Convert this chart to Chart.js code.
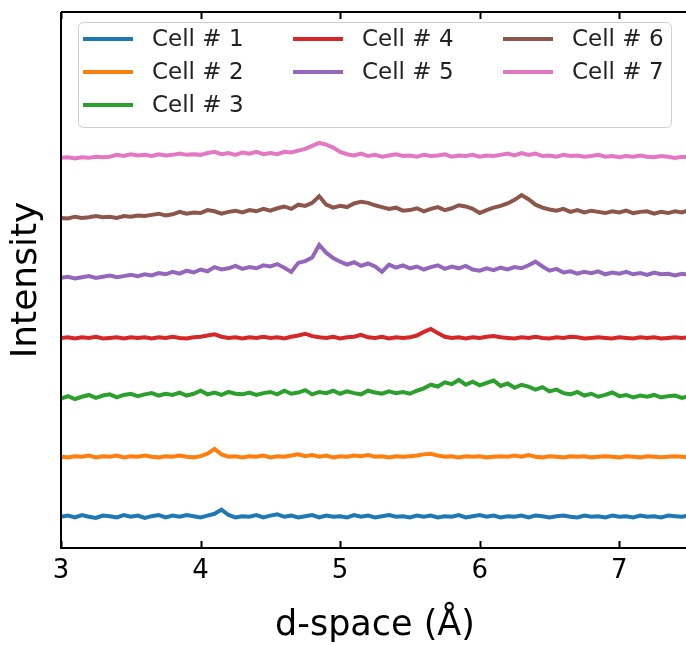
<!DOCTYPE html>
<html>
<head>
<meta charset="utf-8">
<title>d-space intensity</title>
<script src="https://cdn.jsdelivr.net/npm/chart.js@4.4.1/dist/chart.umd.min.js"></script>
<style>
  html, body { margin: 0; padding: 0; background: #fff; overflow: hidden; }
  #wrap { width: 690px; height: 645px; }
</style>
</head>
<body>
<div id="wrap"><canvas id="xrd" width="690" height="645"></canvas></div>
<script>
"use strict";

// d-space sampling (Å)
const dSpace = [
  3.00,3.05,3.10,3.15,3.20,3.25,3.30,3.35,3.40,3.45,
  3.50,3.55,3.60,3.65,3.70,3.75,3.80,3.85,3.90,3.95,
  4.00,4.05,4.10,4.15,4.20,4.25,4.30,4.35,4.40,4.45,
  4.50,4.55,4.60,4.65,4.70,4.75,4.80,4.85,4.90,4.95,
  5.00,5.05,5.10,5.15,5.20,5.25,5.30,5.35,5.40,5.45,
  5.50,5.55,5.60,5.65,5.70,5.75,5.80,5.85,5.90,5.95,
  6.00,6.05,6.10,6.15,6.20,6.25,6.30,6.35,6.40,6.45,
  6.50,6.55,6.60,6.65,6.70,6.75,6.80,6.85,6.90,6.95,
  7.00,7.05,7.10,7.15,7.20,7.25,7.30,7.35,7.40,7.45,7.50
];

const cellLabels = ['Cell # 1', 'Cell # 2', 'Cell # 3', 'Cell # 4', 'Cell # 5', 'Cell # 6', 'Cell # 7'];
const cellColors = ['#1f77b4', '#ff7f0e', '#2ca02c', '#d62728', '#9467bd', '#8c564b', '#e377c2'];
// vertical offset used to stack the traces
const cellOffsets = [0.52, 1.52, 2.52, 3.50, 4.50, 5.50, 6.50];

const cell1 = [
  0.00,0.02,-0.01,0.03,0.00,-0.02,0.02,0.01,-0.01,0.03,
  0.00,0.02,-0.02,0.01,0.03,-0.01,0.02,0.00,0.03,0.01,
  -0.01,0.02,0.05,0.12,0.03,-0.01,0.01,0.00,0.03,-0.01,
  0.02,0.04,0.00,0.02,-0.01,0.01,0.03,-0.01,0.02,0.00,
  0.01,-0.01,0.03,0.00,0.02,-0.01,0.01,0.03,0.00,0.01,
  -0.01,0.02,0.00,0.02,-0.01,0.01,0.00,0.03,-0.01,0.01,
  0.03,0.00,0.02,-0.01,0.01,0.00,0.02,-0.01,0.02,0.01,
  -0.01,0.01,0.02,0.00,-0.01,0.02,0.00,0.01,-0.01,0.02,
  0.00,0.01,-0.01,0.02,0.00,0.01,-0.01,0.02,0.01,0.00,0.02
];
const cell2 = [
  0.00,-0.01,0.01,0.00,0.02,-0.01,0.01,0.00,0.02,-0.01,
  0.01,0.00,0.02,0.00,-0.01,0.01,0.00,0.02,0.00,-0.01,
  0.01,0.05,0.13,0.04,0.00,0.01,-0.01,0.01,0.00,0.02,
  -0.01,0.01,0.00,0.02,0.04,0.01,0.03,0.00,0.02,-0.01,
  0.01,0.00,0.02,0.01,0.03,0.00,0.01,-0.01,0.01,0.00,
  0.01,0.02,0.04,0.05,0.02,0.00,0.01,-0.01,0.01,0.00,
  0.01,-0.01,0.00,0.01,0.00,0.02,0.00,0.03,0.00,-0.01,
  0.01,0.00,-0.01,0.01,0.00,0.01,-0.01,0.00,0.01,0.00,
  -0.01,0.01,0.00,-0.01,0.01,0.00,-0.01,0.00,0.01,0.00,-0.01
];
const cell3 = [
  -0.03,0.01,-0.04,0.00,0.03,-0.02,0.02,0.04,-0.01,0.03,
  0.05,0.01,0.04,0.06,0.02,0.05,0.03,0.07,0.02,0.05,
  0.10,0.04,0.07,0.03,0.08,0.05,0.04,0.07,0.03,0.06,
  0.08,0.04,0.10,0.05,0.07,0.11,0.04,0.08,0.06,0.10,
  0.05,0.09,0.06,0.04,0.10,0.07,0.05,0.09,0.06,0.08,
  0.05,0.10,0.14,0.20,0.17,0.24,0.21,0.28,0.20,0.25,
  0.19,0.23,0.27,0.18,0.22,0.15,0.20,0.17,0.12,0.16,
  0.09,0.12,0.06,0.04,0.08,0.02,0.05,0.00,0.03,0.07,
  0.01,0.03,-0.01,0.02,0.00,0.03,-0.01,0.01,0.02,-0.02,0.01
];
const cell4 = [
  0.00,0.01,-0.01,0.01,0.00,0.02,-0.01,0.00,0.01,-0.01,
  0.01,0.00,0.01,-0.01,0.01,0.00,0.02,0.00,-0.01,0.01,
  0.02,0.04,0.06,0.02,0.00,0.01,-0.01,0.01,0.00,0.02,
  0.00,0.01,-0.01,0.02,0.04,0.07,0.03,0.01,0.00,0.02,
  -0.01,0.01,0.02,0.05,0.01,0.00,0.02,-0.01,0.01,0.00,
  0.01,0.04,0.10,0.15,0.08,0.02,0.00,0.01,-0.01,0.01,
  0.00,0.02,0.03,0.01,0.00,-0.01,0.01,0.00,0.02,0.00,
  -0.01,0.01,0.00,0.02,0.01,-0.01,0.00,0.01,0.00,-0.01,
  0.01,0.00,-0.01,0.01,0.00,0.01,-0.01,0.00,0.01,0.00,0.01
];
const cell5 = [
  0.00,0.02,-0.01,0.01,0.03,0.00,0.02,0.04,0.01,0.03,
  0.05,0.03,0.06,0.04,0.08,0.06,0.10,0.07,0.12,0.09,
  0.14,0.11,0.18,0.14,0.16,0.20,0.15,0.18,0.16,0.21,
  0.19,0.23,0.17,0.10,0.25,0.28,0.34,0.55,0.42,0.33,
  0.27,0.22,0.26,0.20,0.24,0.19,0.10,0.22,0.17,0.21,
  0.16,0.19,0.14,0.18,0.21,0.15,0.19,0.16,0.20,0.14,
  0.12,0.16,0.13,0.17,0.14,0.18,0.16,0.21,0.27,0.19,
  0.12,0.15,0.09,0.11,0.07,0.10,0.08,0.11,0.06,0.09,
  0.07,0.10,0.06,0.08,0.05,0.09,0.06,0.07,0.04,0.07,0.05
];
const cell6 = [
  0.00,-0.01,0.02,0.00,0.01,0.03,0.01,0.02,0.00,0.03,
  0.02,0.04,0.03,0.05,0.07,0.04,0.06,0.10,0.07,0.09,
  0.08,0.13,0.11,0.07,0.10,0.12,0.09,0.13,0.11,0.15,
  0.12,0.16,0.19,0.15,0.22,0.20,0.25,0.36,0.22,0.17,
  0.20,0.18,0.24,0.27,0.25,0.21,0.18,0.15,0.17,0.12,
  0.13,0.16,0.11,0.15,0.18,0.13,0.16,0.21,0.19,0.15,
  0.08,0.13,0.17,0.20,0.24,0.30,0.38,0.31,0.22,0.17,
  0.14,0.12,0.15,0.10,0.13,0.09,0.12,0.10,0.08,0.11,
  0.09,0.12,0.08,0.10,0.11,0.07,0.10,0.08,0.11,0.09,0.13
];
const cell7 = [
  0.00,0.01,-0.01,0.01,0.00,0.02,0.01,0.02,0.05,0.03,
  0.06,0.04,0.05,0.03,0.06,0.04,0.05,0.07,0.05,0.06,
  0.05,0.08,0.10,0.06,0.08,0.05,0.09,0.07,0.10,0.06,
  0.08,0.06,0.10,0.09,0.12,0.15,0.20,0.25,0.22,0.17,
  0.10,0.06,0.04,0.07,0.03,0.05,0.02,0.04,0.06,0.03,
  0.04,0.02,0.05,0.03,0.04,0.06,0.02,0.04,0.03,0.05,
  0.02,0.04,0.03,0.05,0.07,0.04,0.08,0.05,0.07,0.03,
  0.04,0.02,0.05,0.03,0.04,0.02,0.03,0.05,0.02,0.03,
  0.01,0.03,0.02,0.04,0.02,0.01,0.03,0.02,0.00,0.02,0.01
];

const cellIntensity = [cell1, cell2, cell3, cell4, cell5, cell6, cell7];
const xTicks = [3, 4, 5, 6, 7];

const FONT = "'DejaVu Sans', sans-serif";

// matplotlib-like frame with inward ticks on top and bottom
const framePlugin = {
    id: 'frame',
    afterDraw(chart) {
        const ctx = chart.ctx, a = chart.chartArea, xs = chart.scales.x;
        ctx.save();
        ctx.strokeStyle = '#000';
        ctx.lineWidth = 2;
        ctx.beginPath();
        ctx.moveTo(a.left, a.top);
        ctx.lineTo(a.right + 2, a.top);
        ctx.moveTo(a.left, a.top);
        ctx.lineTo(a.left, a.bottom);
        ctx.lineTo(a.right + 2, a.bottom);
        xTicks.forEach(function (v) {
            const px = Math.round(xs.getPixelForValue(v)) + 0.5;
            ctx.moveTo(px, a.bottom);
            ctx.lineTo(px, a.bottom - 7);
            ctx.moveTo(px, a.top);
            ctx.lineTo(px, a.top + 7);
        });
        ctx.stroke();
        ctx.restore();
    }
};

// legend in 3 columns inside the plot, filled column by column (3, 2, 2)
const legendPlugin = {
    id: 'boxLegend',
    afterDraw(chart) {
        const ctx = chart.ctx, a = chart.chartArea;
        const sets = chart.data.datasets;
        const boxX = a.left + 17, boxY = a.top + 10, boxW = 593, boxH = 105;
        ctx.save();
        ctx.beginPath();
        ctx.roundRect(boxX + 0.5, boxY + 0.5, boxW, boxH, 5);
        ctx.fillStyle = 'rgba(255,255,255,0.85)';
        ctx.fill();
        ctx.strokeStyle = '#d0d0d0';
        ctx.lineWidth = 1;
        ctx.stroke();

        const perCol = [3, 2, 2];
        let idx = 0;
        ctx.font = '23px ' + FONT;
        ctx.textBaseline = 'middle';
        ctx.fillStyle = '#222';
        perCol.forEach(function (n, c) {
            for (let r = 0; r < n; r++, idx++) {
                const ds = sets[idx];
                const lx = boxX + 5 + c * 210;
                const ly = boxY + 17 + r * 33;
                ctx.beginPath();
                ctx.strokeStyle = ds.borderColor;
                ctx.lineWidth = 4;
                ctx.moveTo(lx, ly);
                ctx.lineTo(lx + 50, ly);
                ctx.stroke();
                ctx.fillText(ds.label, lx + 69, ly + 1);
            }
        });
        ctx.restore();
    }
};

const datasets = cellLabels.map(function (label, k) {
    return {
        label: label,
        data: dSpace.map(function (d, i) { return { x: d, y: cellIntensity[k][i] + cellOffsets[k] }; }),
        borderColor: cellColors[k],
        backgroundColor: cellColors[k],
        borderWidth: 4,
        pointRadius: 0,
        tension: 0,
        fill: false
    };
});

new Chart(document.getElementById('xrd').getContext('2d'), {
    type: 'line',
    data: { datasets: datasets },
    options: {
        responsive: false,
        animation: false,
        layout: { padding: { top: 12, right: 1, left: 0, bottom: 0 } },
        plugins: {
            legend: { display: false },
            tooltip: { enabled: false }
        },
        scales: {
            x: {
                type: 'linear',
                position: 'bottom',
                min: 3,
                max: 7.5,
                afterBuildTicks: function (s) { s.ticks = xTicks.map(function (v) { return { value: v }; }); },
                afterFit: function (s) { s.height = 97; },
                grid: { display: false, drawTicks: false },
                border: { display: false },
                ticks: {
                    color: '#000',
                    padding: 8,
                    maxRotation: 0,
                    font: { family: FONT, size: 26 }
                },
                title: {
                    display: true,
                    text: 'd-space (Å)',
                    color: '#000',
                    font: { family: FONT, size: 35, lineHeight: 1 },
                    padding: { top: 0, bottom: 2 }
                }
            },
            y: {
                min: 0,
                max: 8.93,
                afterFit: function (s) { s.width = 61; },
                grid: { display: false, drawTicks: false },
                border: { display: false },
                ticks: { display: false },
                title: {
                    display: true,
                    text: 'Intensity',
                    color: '#000',
                    font: { family: FONT, size: 36, lineHeight: 1.2 },
                    padding: { top: 5, bottom: 0 }
                }
            }
        }
    },
    plugins: [framePlugin, legendPlugin]
});
</script>
</body>
</html>
